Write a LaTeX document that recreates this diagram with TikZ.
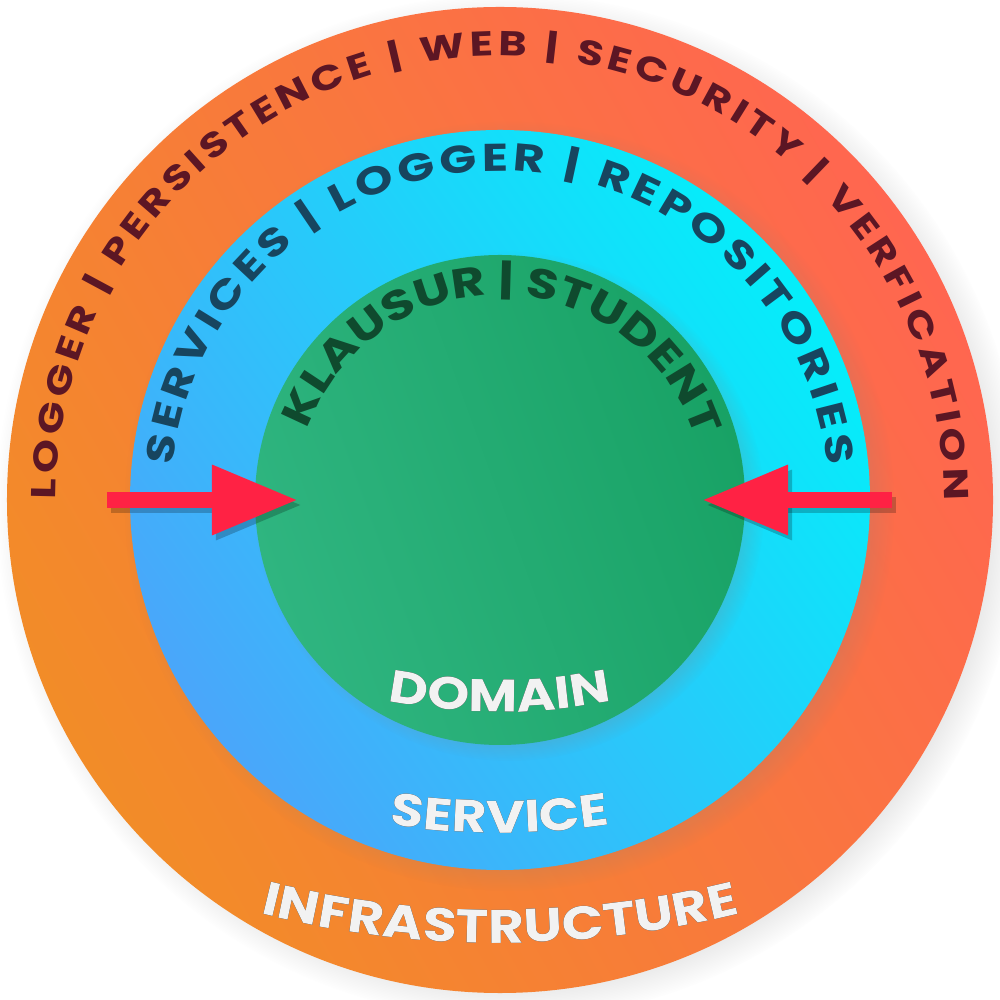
\documentclass[tikz,border=0pt]{standalone}
\usepackage{fontspec}
\usepackage{xcolor}
\usetikzlibrary{positioning,shadows,decorations.text,arrows.meta}

\newfontfamily\ringfont{Poppins}[FakeStretch=1.25]
\newfontfamily\namefont{Poppins}[FakeStretch=1.17]

\definecolor{infraleft}{HTML}{F28C28}
\definecolor{infraright}{HTML}{FF6650}
\definecolor{serviceleft}{HTML}{4AA6FA}
\definecolor{serviceright}{HTML}{04EEFA}
\definecolor{domainleft}{HTML}{2FB580}
\definecolor{domainright}{HTML}{18A265}
\definecolor{infratext}{HTML}{5C1624}
\definecolor{servicetext}{HTML}{17455F}
\definecolor{domaintext}{HTML}{0F4A2E}
\definecolor{namewhite}{HTML}{F2F2F2}
\definecolor{arrowred}{HTML}{FF2244}

\begin{document}
\begin{tikzpicture}
    \tikzstyle{layer} = [circle, inner sep=0pt, circular drop shadow={shadow xshift=0.09, shadow yshift=-0.06, shadow scale=1.04, opacity=0.4}]
    \tikzstyle{ringtext} = [decorate, decoration={text along path, text format delimiters={[}{]}, text align={fit to path}}]
    \tikzstyle{layername} = [decorate, decoration={text along path, text format delimiters={[}{]}, text align=center, text color=namewhite}]
    \tikzstyle{layershade} = [layername, decoration={text color=black}, opacity=0.35, transform canvas={shift={(0.025,-0.035)}}]
    \tikzstyle{push} = [draw=arrowred, line width=1.6mm, -{Triangle[length=8.6mm, width=6.6mm]}]
    \tikzstyle{pushshade} = [push, draw=black, opacity=0.22, transform canvas={shift={(0.04,-0.05)}}]

    \useasboundingbox (-5,-5) rectangle (5,5);

    \node [layer, minimum size=9.86cm, left color=infraleft, right color=infraright, shading angle=120] (infra) at (0,0) {};
    \node [layer, minimum size=7.4cm, left color=serviceleft, right color=serviceright, shading angle=125] (service) at (0,0) {};
    \node [layer, minimum size=4.9cm, left color=domainleft, right color=domainright, shading angle=110] (domain) at (0,0) {};

    \path [ringtext, decoration={text color=infratext, text={[\ringfont\bfseries\fontsize{9.8}{12}\selectfont]LOGGER | PERSISTENCE | WEB | SECURITY | VERFICATION}}] (infra.center) ++(180:4.44) arc (180:0:4.44);
    \path [ringtext, decoration={text color=servicetext, text={[\ringfont\bfseries\fontsize{11}{13}\selectfont]SERVICES | LOGGER | REPOSITORIES}}] (service.center) ++(174:3.29) arc (174:6:3.29);
    \path [ringtext, decoration={text color=domaintext, text={[\ringfont\bfseries\fontsize{11.8}{14}\selectfont]KLAUSUR | STUDENT}}] (domain.center) ++(160:2.05) arc (160:20:2.05);

    \path [layershade, decoration={text={[\namefont\bfseries\fontsize{13}{15}\selectfont]DOMAIN}}] ([yshift=3.71cm]domain.center) ++(245:5.83) arc (245:295:5.83);
    \path [layername, decoration={text={[\namefont\bfseries\fontsize{13}{15}\selectfont]DOMAIN}}] ([yshift=3.71cm]domain.center) ++(245:5.83) arc (245:295:5.83);
    \path [layershade, decoration={text={[\namefont\bfseries\fontsize{13}{15}\selectfont]SERVICE}}] ([yshift=3.97cm]service.center) ++(250:7.3) arc (250:290:7.3);
    \path [layername, decoration={text={[\namefont\bfseries\fontsize{13}{15}\selectfont]SERVICE}}] ([yshift=3.97cm]service.center) ++(250:7.3) arc (250:290:7.3);
    \path [layershade, decoration={text={[\namefont\bfseries\fontsize{13.4}{15}\selectfont]INFRASTRUCTURE}}] ([yshift=5.52cm]infra.center) ++(250:9.95) arc (250:290:9.95);
    \path [layername, decoration={text={[\namefont\bfseries\fontsize{13.4}{15}\selectfont]INFRASTRUCTURE}}] ([yshift=5.52cm]infra.center) ++(250:9.95) arc (250:290:9.95);

    \coordinate (leftstart) at (-3.93,0);
    \coordinate (lefttip) at (-2.02,0);
    \coordinate (rightstart) at (3.92,0);
    \coordinate (righttip) at (2.02,0);

    \draw [pushshade] (leftstart) -- (lefttip);
    \draw [pushshade] (rightstart) -- (righttip);
    \draw [push] (leftstart) -- (lefttip);
    \draw [push] (rightstart) -- (righttip);
\end{tikzpicture}
\end{document}
